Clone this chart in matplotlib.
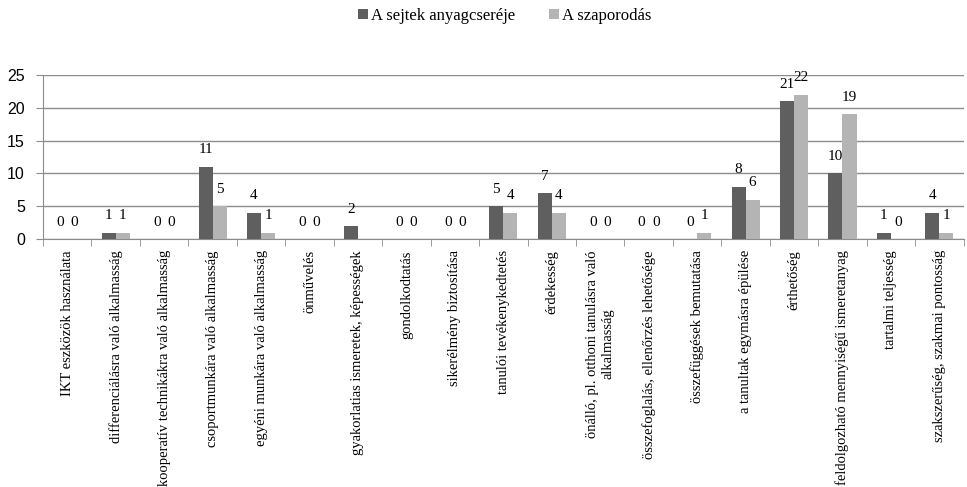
import matplotlib.pyplot as plt
import numpy as np

categories = [
    "IKT eszközök használata",
    "differenciálásra való alkalmasság",
    "kooperatív technikákra való alkalmasság",
    "csoportmunkára való alkalmasság",
    "egyéni munkára való alkalmasság",
    "önművelés",
    "gyakorlatias ismeretek, képességek",
    "gondolkodtatás",
    "sikerélmény biztosítása",
    "tanulói tevékenykedtetés",
    "érdekesség",
    "önálló, pl. otthoni tanulásra való\nalkalmasság",
    "összefoglalás, ellenőrzés lehetősége",
    "összefüggések bemutatása",
    "a tanultak egymásra épülése",
    "érthetőség",
    "feldolgozható mennyiségű ismeretanyag",
    "tartalmi teljesség",
    "szakszerűség, szakmai pontosság",
]
anyagcsere = [0, 1, 0, 11, 4, 0, 2, 0, 0, 5, 7, 0, 0, 0, 8, 21, 10, 1, 4]
szaporodas = [0, 1, 0, 5, 1, 0, None, 0, 0, 4, 4, 0, 0, 1, 6, 22, 19, 0, 1]

dark = "#5f5f5f"
light = "#b4b4b4"
grid = "#8c8c8c"
serif = "Liberation Serif"

fig = plt.figure(figsize=(9.67, 4.87), dpi=100)
ax = fig.add_axes([0.0445, 0.509, 0.952, 0.337])

x = np.arange(len(categories))
w = 0.29
v2 = [np.nan if v is None else v for v in szaporodas]
b1 = ax.bar(x - w / 2, anyagcsere, w, color=dark, label="A sejtek anyagcseréje", zorder=3)
b2 = ax.bar(x + w / 2, v2, w, color=light, label="A szaporodás", zorder=3)

for xi, v in zip(x, anyagcsere):
    ax.annotate(str(v), (xi - w / 2, v), xytext=(0, 7.5), textcoords="offset points",
                ha="center", va="bottom", fontsize=11, family=serif)
for xi, v in zip(x, szaporodas):
    if v is None:
        continue
    ax.annotate(str(v), (xi + w / 2, v), xytext=(0, 7.5), textcoords="offset points",
                ha="center", va="bottom", fontsize=11, family=serif)

ax.set_xlim(-0.5, len(categories) - 0.5)
ax.set_ylim(0, 25)
ax.set_yticks([0, 5, 10, 15, 20, 25])
ax.yaxis.grid(True, color=grid, linewidth=1, zorder=0)
ax.tick_params(axis="y", length=5, color=grid, pad=8, labelsize=11.5)
for lbl in ax.get_yticklabels():
    lbl.set_family("Liberation Sans")

ax.set_xticks(x)
ax.set_xticklabels(categories, rotation=90, ha="center", va="top",
                   fontsize=10.5, family=serif, multialignment="center")
ax.set_xticks(np.arange(-0.5, len(categories)), minor=True)
ax.tick_params(axis="x", which="major", length=0, pad=8)
ax.tick_params(axis="x", which="minor", length=5, color=grid)

for s in ["top", "right"]:
    ax.spines[s].set_visible(False)
ax.spines["left"].set_color(grid)
ax.spines["bottom"].set_color(grid)

fig.legend(handles=[b1, b2], loc="center", bbox_to_anchor=(0.522, 0.967), ncol=2,
           frameon=False, prop={"family": serif, "size": 12},
           handlelength=0.6, handleheight=0.6, handletextpad=0.2, columnspacing=2.0)

fig.savefig("out.png", dpi=100)
